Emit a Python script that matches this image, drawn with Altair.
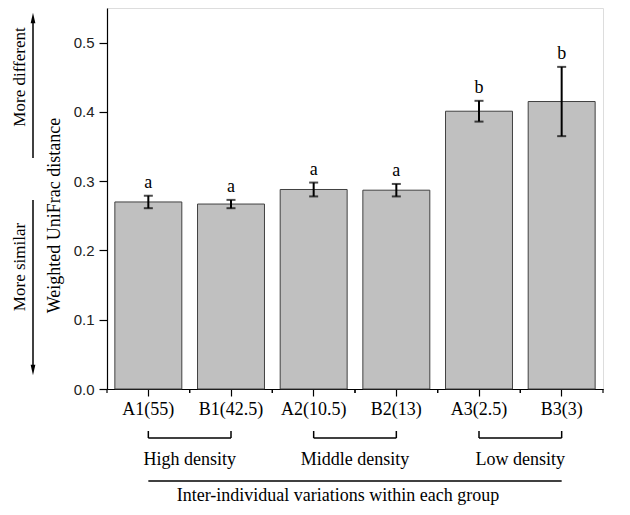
import altair as alt
import pandas as pd

cats = ["A1(55)", "B1(42.5)", "A2(10.5)", "B2(13)", "A3(2.5)", "B3(3)"]
means = [0.270, 0.267, 0.288, 0.287, 0.401, 0.415]
errs = [0.009, 0.006, 0.010, 0.009, 0.015, 0.050]
letters = ["a", "a", "a", "a", "b", "b"]

groups = ["High density", "Middle density", "Low density"]
group_start = ["A1(55)", "A2(10.5)", "A3(2.5)"]
group_end = ["B1(42.5)", "B2(13)", "B3(3)"]

yticks = [0.0, 0.05, 0.1, 0.15, 0.2, 0.25, 0.3, 0.35, 0.4, 0.45, 0.5]

W, H = 496, 381
SERIF = "Liberation Serif"
SANS = "Liberation Sans"
HALF = W / len(cats) / 2

df = pd.DataFrame({"cat": cats, "mean": means, "err": errs, "letter": letters})
df["lo"] = df["mean"] - df["err"]
df["hi"] = df["mean"] + df["err"]

gdf = pd.DataFrame({"group": groups, "start": group_start, "end": group_end})
edf = pd.DataFrame({"start": [cats[0]], "end": [cats[-1]]})

xscale = alt.Scale(domain=cats, paddingInner=0.19, paddingOuter=0.095)
yscale = alt.Scale(domain=[0, 0.55], nice=False, zero=True)

xaxis = alt.Axis(labelFont=SERIF, labelFontSize=18, labelColor="black",
                 labelAngle=0, tickSize=7, tickColor="black", tickWidth=1.2,
                 domainColor="black", domainWidth=1.2, labelPadding=4, grid=False,
                 title=None)


def xenc(field):
    return alt.X(field + ":N", sort=cats, scale=xscale, axis=xaxis, title=None)


y_main = alt.Y("mean:Q", scale=yscale,
               axis=alt.Axis(values=yticks, title="Weighted UniFrac distance",
                             labelExpr="round(datum.value*100) % 10 == 0 ? format(datum.value, '.1f') : ''",
                             labelFont=SANS, labelFontSize=15, labelColor="#222",
                             tickSize=8, tickColor="black", tickWidth=1.2,
                             domainColor="black", domainWidth=1.2,
                             labelPadding=5, grid=False,
                             titleFont=SERIF, titleFontSize=18, titleFontWeight="normal",
                             titleColor="black", titleAngle=-90, titleX=-48, titleY=207,
                             titleAlign="center", titleBaseline="alphabetic"))

base = alt.Chart(df)

bars = base.mark_bar(fill="#c0c0c0", stroke="#404040", strokeWidth=1).encode(
    x=xenc("cat"), y=y_main)

err_rule = base.mark_rule(color="black", strokeWidth=2).encode(
    x=xenc("cat"), y=alt.Y("lo:Q", scale=yscale), y2="hi:Q")

cap_hi = base.mark_tick(color="black", thickness=2, size=9, orient="horizontal").encode(
    x=xenc("cat"), y=alt.Y("hi:Q", scale=yscale))
cap_lo = base.mark_tick(color="black", thickness=2, size=9, orient="horizontal").encode(
    x=xenc("cat"), y=alt.Y("lo:Q", scale=yscale))

letter_txt = base.mark_text(font=SERIF, fontSize=18, color="black",
                            baseline="alphabetic", dy=-8).encode(
    x=xenc("cat"), y=alt.Y("hi:Q", scale=yscale), text="letter:N")

minor_l = base.mark_rule(color="black", strokeWidth=1.2, xOffset=-HALF).encode(
    x=xenc("cat"), y=alt.value(H), y2=alt.value(H + 4))
minor_r = base.mark_rule(color="black", strokeWidth=1.2, xOffset=HALF).encode(
    x=xenc("cat"), y=alt.value(H), y2=alt.value(H + 4))

# bracket annotations below the axis
gbase = alt.Chart(gdf)
br_h = gbase.mark_rule(color="black", strokeWidth=1.5).encode(
    x=xenc("start"), x2="end:N", y=alt.value(430))
br_l = gbase.mark_rule(color="black", strokeWidth=1.5).encode(
    x=xenc("start"), y=alt.value(423), y2=alt.value(430))
br_r = gbase.mark_rule(color="black", strokeWidth=1.5).encode(
    x=xenc("end"), y=alt.value(423), y2=alt.value(430))
g_txt = gbase.mark_text(font=SERIF, fontSize=18, color="black", baseline="alphabetic",
                        xOffset=HALF).encode(
    x=xenc("start"), y=alt.value(457), text="group:N")

long_line = alt.Chart(edf).mark_rule(color="black", strokeWidth=1.5).encode(
    x=xenc("start"), x2="end:N", y=alt.value(473))

bottom_title = alt.Chart(pd.DataFrame({"t": ["Inter-individual variations within each group"]})).mark_text(
    font=SERIF, fontSize=18, color="black", baseline="alphabetic", align="center").encode(
    x=alt.value(231), y=alt.value(493), text="t:N")

# left side arrows and notes
notes = pd.DataFrame({"t": ["More different", "More similar"], "yy": [69, 259]})
note_txt = alt.Chart(notes).mark_text(font=SERIF, fontSize=17, color="black", angle=270,
                                      baseline="alphabetic", align="center").encode(
    x=alt.value(-82), y=alt.Y("yy:Q", scale=None), text="t:N")

one = pd.DataFrame({"a": [1]})
arrow_up = alt.Chart(one).mark_rule(color="black", strokeWidth=1.5).encode(
    x=alt.value(-74), y=alt.value(12), y2=alt.value(150))
arrow_dn = alt.Chart(one).mark_rule(color="black", strokeWidth=1.5).encode(
    x=alt.value(-74), y=alt.value(192), y2=alt.value(360))
head_up = alt.Chart(one).mark_point(
    shape="M0,-1L0.45,1L-0.45,1Z", filled=True, color="black", opacity=1, size=110).encode(
    x=alt.value(-74), y=alt.value(10))
head_dn = alt.Chart(one).mark_point(
    shape="M0,1L0.45,-1L-0.45,-1Z", filled=True, color="black", opacity=1, size=110).encode(
    x=alt.value(-74), y=alt.value(362))

chart = alt.layer(
    bars, err_rule, cap_hi, cap_lo, letter_txt, minor_l, minor_r,
    br_h, br_l, br_r, g_txt, long_line, bottom_title,
    note_txt, arrow_up, arrow_dn, head_up, head_dn
).properties(
    width=W, height=H,
    autosize=alt.AutoSizeParams(type="none"),
    padding={"left": 99, "top": 0, "right": 19, "bottom": 120},
).configure_view(stroke="#000000", strokeWidth=1.2).configure(background="white")

chart.save("out.html", embed_options={"renderer": "svg", "actions": False})
